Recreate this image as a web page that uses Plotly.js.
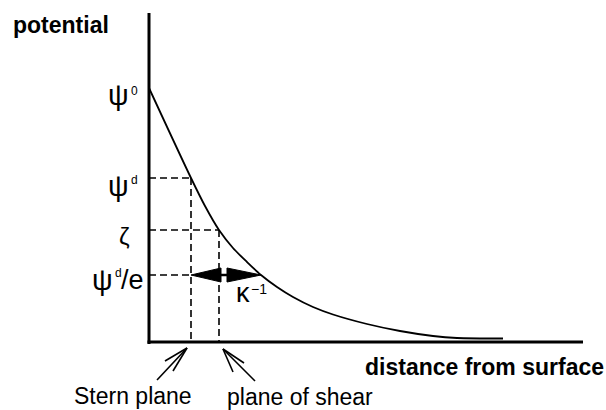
<!DOCTYPE html>
<html>
<head>
<meta charset="utf-8">
<script src="https://cdn.plot.ly/plotly-3.0.1.min.js"></script>
<style>html,body{margin:0;padding:0;background:#fff;}#chart{width:606px;height:410px;}</style>
</head>
<body>
<div id="chart"></div>
<script>
// ---- data (arbitrary units) ----
const distance  = [0, 42, 56, 70, 84, 98, 112, 128, 144, 164, 184, 218, 251, 284, 308, 354];
const potential = [254, 164, 136, 112, 94, 80, 67, 55, 45, 35, 27.5, 18, 11, 6, 4, 3.5];

const levelSymbols = ['ψ', 'ψ', 'ζ', 'ψ'];
const levelSupers  = ['0', 'd', '', 'd'];
const levelSuffix  = ['', '', '', '/e'];
const levelValues  = [254, 164, 112, 67];     // ψ0, ψd, ζ, ψd/e

const sternX = 42;     // Stern plane
const shearX = 70;     // plane of shear
const kappaX = 112;    // distance where potential = ψd/e

const xLabel = 'distance from surface';
const yLabel = 'potential';
const planeLabels = ['Stern plane', 'plane of shear'];
const kappaLabel = 'κ';
const kappaSuper = '−1';

// ---- layout geometry ----
const W = 606, H = 410, L = 149, T = 13, R = 583, B = 342;
const px = v => (v - L) / (R - L);
const py = v => (B - v) / (B - T);
const FONT = 'Liberation Sans, Arial, Helvetica, sans-serif';
const black = '#000';

const shapes = [];
// axes
shapes.push({type:'line', xref:'paper', yref:'paper', x0:px(149), x1:px(149), y0:py(344), y1:py(13), line:{color:black, width:3}});
shapes.push({type:'line', xref:'paper', yref:'paper', x0:px(147.5), x1:px(583), y0:py(342), y1:py(342), line:{color:black, width:3}});

const dashStyle = {color:black, width:1.6, dash:'7px,4px'};
// ψd dashed lines
shapes.push({type:'line', xref:'x', yref:'y', x0:0, x1:sternX, y0:levelValues[1], y1:levelValues[1], line:dashStyle});
shapes.push({type:'line', xref:'x', yref:'y', x0:sternX, x1:sternX, y0:levelValues[1], y1:0, line:dashStyle});
// ζ dashed lines
shapes.push({type:'line', xref:'x', yref:'y', x0:0, x1:shearX, y0:levelValues[2], y1:levelValues[2], line:dashStyle});
shapes.push({type:'line', xref:'x', yref:'y', x0:shearX, x1:shearX, y0:levelValues[2], y1:0, line:dashStyle});
// ψd/e dashed line
shapes.push({type:'line', xref:'x', yref:'y', x0:0, x1:sternX, y0:levelValues[3], y1:levelValues[3], line:dashStyle});

// κ^-1 double arrow
const ye = levelValues[3], hh = 7;
shapes.push({type:'path', xref:'x', yref:'y',
  path:`M${sternX},${ye} L${shearX+2},${ye+hh} L${shearX+2},${ye-hh} Z`,
  fillcolor:black, line:{color:black, width:1}});
shapes.push({type:'path', xref:'x', yref:'y',
  path:`M${kappaX},${ye} L${shearX+8},${ye+hh} L${shearX+8},${ye-hh} Z`,
  fillcolor:black, line:{color:black, width:1}});
shapes.push({type:'line', xref:'x', yref:'y', x0:shearX+2, x1:shearX+8, y0:ye, y1:ye, line:{color:black, width:2.5}});

// pointer arrows below the axis
function arrowLines(tip, tail, arms) {
  shapes.push({type:'line', xref:'paper', yref:'paper', x0:px(tip[0]), y0:py(tip[1]), x1:px(tail[0]), y1:py(tail[1]), line:{color:black, width:1.6}});
  arms.forEach(a => shapes.push({type:'line', xref:'paper', yref:'paper', x0:px(tip[0]), y0:py(tip[1]), x1:px(a[0]), y1:py(a[1]), line:{color:black, width:1.6}}));
}
arrowLines([187,348], [157,380], [[165,361],[173,371]]);
arrowLines([223,349], [255,381], [[244,363],[233,372]]);

// ---- annotations ----
const ann = [];
const t = (text, x, y, size, anchor, xref, yref, bold) => ann.push({
  text: bold ? '<b>' + text + '</b>' : text, x, y, xref: xref || 'paper', yref: yref || 'paper',
  xanchor: anchor || 'left', yanchor: 'middle', showarrow: false,
  font: {family: FONT, size, color: black}
});
t(yLabel, px(11), py(25), 23, 'left', null, null, true);
t(xLabel, px(606), py(367), 23, 'right', null, null, true);
t(planeLabels[0], px(132.5), py(396), 23, 'center');
t(planeLabels[1], px(300), py(397), 23, 'center');

// level labels
const symOffset = [-7, -8, -6, -5];
const symRight  = [131, 131, 132, 115];
const supY      = [91, 180, 0, 273];
levelValues.forEach((v, i) => {
  t(levelSymbols[i], px(symRight[i]), v + symOffset[i], i === 2 ? 24 : 29, 'right', 'paper', 'y');
  if (levelSupers[i]) t(levelSupers[i], px(symRight[i] - 2), py(supY[i]), 12, 'left');
  if (levelSuffix[i]) t(levelSuffix[i], px(119), v + symOffset[i], 27, 'left', 'paper', 'y');
});
// κ^-1
t(kappaLabel, px(234), py(293), 27, 'left');
t(kappaSuper, px(249), py(289), 14, 'left');

const trace = {
  x: distance, y: potential, type: 'scatter', mode: 'lines',
  line: {color: black, width: 1.8, shape: 'spline', smoothing: 0.8},
  hoverinfo: 'skip', cliponaxis: false
};

const layout = {
  width: W, height: H,
  margin: {l: L, r: W - R, t: T, b: H - B, pad: 0},
  paper_bgcolor: '#fff', plot_bgcolor: '#fff',
  showlegend: false,
  xaxis: {range: [0, R - L], visible: false, fixedrange: true},
  yaxis: {range: [0, B - T], visible: false, fixedrange: true},
  shapes, annotations: ann
};

Plotly.newPlot('chart', [trace], layout, {staticPlot: true, displayModeBar: false});
</script>
</body>
</html>
